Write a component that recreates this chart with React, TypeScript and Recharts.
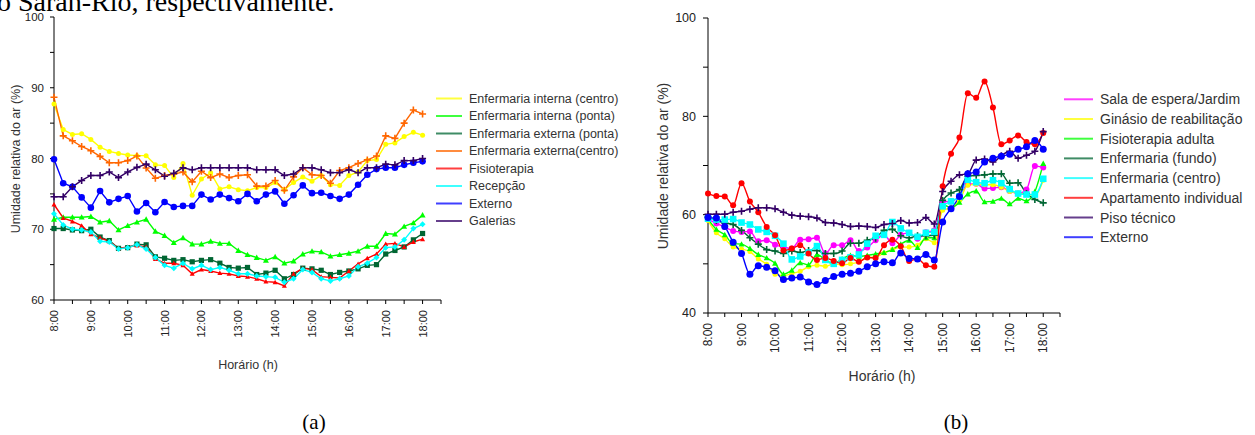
import React from 'react';
import { CartesianGrid, Line, LineChart, XAxis, YAxis } from 'recharts';

// leituras a cada 15 min, 8:00 -> 18:00
const times = [
  '8:00', '8:15', '8:30', '8:45', '9:00', '9:15', '9:30', '9:45', '10:00', '10:15', '10:30',
  '10:45', '11:00', '11:15', '11:30', '11:45', '12:00', '12:15', '12:30', '12:45', '13:00',
  '13:15', '13:30', '13:45', '14:00', '14:15', '14:30', '14:45', '15:00', '15:15', '15:30',
  '15:45', '16:00', '16:15', '16:30', '16:45', '17:00', '17:15', '17:30', '17:45', '18:00'
];
const hourLabels = ['8:00', '9:00', '10:00', '11:00', '12:00', '13:00', '14:00', '15:00', '16:00', '17:00', '18:00'];

// (a)
const intCentro = [87.7, 84.1, 83.4, 83.5, 82.7, 81.6, 81.0, 80.7, 80.5, 80.4, 80.4, 79.1, 79.0, 77.3, 79.3, 74.8, 77.1, 78.0, 75.7, 76.0, 75.6, 75.45, 75.9, 75.9, 76.6, 75.6, 76.6, 77.4, 76.8, 77.6, 76.3, 76.2, 77.6, 78.1, 79.7, 79.85, 82.0, 82.2, 83.1, 83.7, 83.3];
const intPonta = [71.4, 71.7, 71.7, 71.7, 71.8, 71.0, 71.2, 69.9, 70.5, 71.0, 71.4, 69.7, 69.1, 68.1, 68.8, 67.9, 67.9, 68.3, 68.0, 68.0, 67.0, 66.4, 66.0, 65.6, 66.1, 65.2, 65.5, 66.5, 66.9, 66.8, 66.2, 66.4, 66.6, 66.9, 67.6, 67.6, 69.4, 69.3, 70.4, 70.9, 72.0];
const extPonta = [70.1, 70.1, 69.9, 69.8, 70.0, 68.9, 68.4, 67.3, 67.4, 67.9, 67.8, 66.1, 65.9, 65.6, 65.7, 65.4, 65.6, 65.7, 65.2, 64.6, 64.5, 64.6, 63.6, 63.8, 64.2, 63.0, 63.6, 64.5, 64.4, 64.2, 63.6, 63.9, 64.1, 64.4, 64.9, 65.0, 66.5, 67.0, 67.5, 68.5, 69.4];
const extCentro = [88.65, 83.2, 82.5, 81.7, 81.1, 80.3, 79.4, 79.4, 79.7, 80.35, 78.65, 77.2, 77.6, 77.8, 78.1, 76.7, 78.2, 77.3, 77.8, 77.3, 77.6, 77.7, 76.1, 76.1, 76.9, 75.5, 77.4, 78.7, 77.7, 77.6, 76.5, 78.3, 78.7, 79.3, 79.8, 80.35, 83.2, 82.85, 85.0, 86.85, 86.3];
const fisioterapia = [73.5, 71.6, 71.1, 70.5, 69.3, 68.8, 68.3, 67.3, 67.5, 67.7, 67.5, 65.8, 65.2, 65.2, 64.9, 63.7, 64.3, 64.1, 63.8, 63.7, 63.4, 63.3, 63.0, 62.6, 62.5, 62.0, 63.7, 64.5, 64.3, 63.3, 63.2, 63.1, 64.1, 65.1, 65.9, 66.5, 67.9, 68.0, 67.5, 68.2, 68.6];
const recepcao = [72.2, 70.6, 70.0, 69.9, 69.6, 68.3, 68.2, 67.2, 67.4, 67.8, 67.2, 66.0, 64.9, 64.5, 65.2, 64.4, 64.9, 64.3, 64.6, 64.2, 63.7, 63.7, 63.4, 63.3, 63.2, 62.5, 63.0, 64.3, 63.9, 63.0, 62.7, 63.0, 63.4, 64.7, 65.2, 66.0, 67.4, 67.5, 68.5, 70.1, 70.7];
const externoA = [79.9, 76.5, 76.0, 74.5, 73.05, 75.4, 73.8, 74.3, 74.7, 72.5, 73.7, 72.4, 73.85, 73.15, 73.3, 73.3, 74.9, 74.2, 74.9, 74.4, 73.95, 75.0, 73.95, 74.9, 75.35, 73.6, 74.8, 76.2, 75.1, 75.15, 74.7, 74.3, 74.9, 76.3, 77.7, 78.5, 78.7, 78.7, 79.1, 79.4, 79.6];
const galerias = [74.6, 74.6, 76.0, 76.9, 77.6, 77.6, 78.1, 77.3, 78.1, 78.75, 79.2, 78.4, 77.5, 77.9, 78.7, 78.4, 78.7, 78.7, 78.7, 78.7, 78.7, 78.7, 78.4, 78.4, 78.4, 77.6, 77.8, 78.7, 78.7, 78.4, 78.0, 78.0, 78.4, 78.0, 78.7, 78.7, 79.2, 79.1, 79.7, 79.7, 80.0];

// (b)
const salaEspera = [59.1, 58.2, 57.5, 56.7, 56.5, 56.6, 54.6, 54.8, 53.9, 53.4, 53.1, 54.9, 55.0, 55.3, 52.1, 53.8, 53.8, 54.8, 52.6, 53.3, 54.8, 55.9, 54.2, 55.9, 56.3, 55.1, 56.4, 56.8, 62.6, 62.7, 63.8, 66.2, 66.3, 65.3, 65.4, 65.6, 64.8, 64.3, 65.1, 69.9, 69.6];
const ginasio = [58.8, 56.3, 55.1, 53.4, 53.0, 52.5, 51.0, 49.9, 47.9, 47.6, 48.0, 48.5, 49.4, 49.7, 49.5, 50.0, 49.8, 50.0, 50.4, 51.3, 51.4, 52.2, 52.9, 53.4, 53.4, 53.8, 55.1, 54.3, 60.9, 61.4, 62.9, 66.0, 66.2, 66.1, 66.1, 65.6, 64.7, 64.4, 64.1, 64.0, 67.0];
const fisioAdulta = [59.1, 57.0, 55.9, 54.1, 54.0, 53.1, 51.9, 51.2, 50.1, 47.9, 48.7, 50.2, 49.8, 51.9, 50.8, 50.0, 51.0, 51.7, 51.5, 51.7, 52.0, 52.3, 52.9, 54.0, 54.8, 53.3, 55.3, 55.3, 62.1, 61.4, 62.5, 64.2, 64.8, 62.6, 62.7, 63.3, 62.2, 63.3, 62.8, 64.7, 70.4];
const enfFundo = [59.5, 58.8, 58.3, 58.0, 56.8, 55.3, 54.0, 52.9, 52.6, 52.1, 52.6, 52.3, 52.7, 52.7, 52.1, 52.1, 52.6, 54.2, 54.2, 54.8, 55.2, 56.8, 57.0, 55.7, 55.3, 55.7, 55.7, 55.8, 62.9, 64.4, 65.1, 67.8, 68.0, 68.1, 68.3, 68.3, 66.4, 66.5, 64.3, 63.1, 62.4];
const enfCentro = [59.2, 59.0, 59.0, 59.1, 58.4, 58.0, 57.0, 56.5, 55.7, 54.1, 50.9, 51.5, 52.3, 53.6, 50.8, 50.0, 50.8, 51.3, 51.9, 54.1, 55.7, 55.9, 58.5, 57.2, 56.3, 55.5, 56.3, 56.5, 61.7, 62.7, 63.7, 67.1, 66.6, 66.4, 67.0, 66.4, 65.2, 64.3, 64.1, 64.1, 67.3];
const apartamento = [64.3, 63.8, 63.7, 61.9, 66.4, 62.7, 60.5, 57.5, 55.8, 52.7, 53.1, 53.8, 52.1, 50.8, 51.2, 50.6, 50.1, 51.2, 50.4, 51.3, 51.2, 53.8, 54.9, 53.6, 50.6, 51.0, 49.7, 49.4, 65.8, 72.4, 75.7, 84.7, 83.8, 87.1, 81.8, 74.3, 75.1, 76.1, 74.8, 74.3, 76.6];
const pisoTecnico = [60.1, 60.1, 60.1, 60.5, 60.7, 61.1, 61.4, 61.4, 61.2, 60.5, 59.9, 59.7, 59.6, 59.3, 58.4, 58.3, 58.0, 57.6, 57.7, 57.6, 57.4, 58.0, 58.2, 58.8, 58.3, 58.4, 59.4, 58.1, 64.7, 66.8, 68.1, 68.3, 71.1, 71.3, 70.7, 72.0, 72.9, 71.5, 72.1, 72.9, 76.9];
const externoB = [59.4, 59.3, 57.6, 54.4, 52.1, 47.9, 49.6, 49.3, 48.6, 46.8, 47.1, 47.3, 46.3, 45.8, 46.6, 47.4, 47.9, 48.1, 48.5, 49.4, 50.0, 50.4, 50.2, 52.2, 51.1, 51.0, 51.9, 50.8, 58.5, 61.2, 63.7, 68.3, 68.7, 70.7, 71.5, 71.9, 72.3, 73.3, 73.8, 75.1, 73.3];

type Shape = 'circle' | 'plus' | 'triangle' | 'square' | 'diamond';
interface SeriesDef {
  key: string;
  name: string;
  values: number[];
  color: string;
  shape: Shape;
  size: number;
}

const seriesA: SeriesDef[] = [
  { key: 'intCentro', name: 'Enfermaria interna (centro)', values: intCentro, color: '#ffff00', shape: 'circle', size: 2.5 },
  { key: 'intPonta', name: 'Enfermaria interna (ponta)', values: intPonta, color: '#00ff00', shape: 'triangle', size: 3 },
  { key: 'extPonta', name: 'Enfermaria externa (ponta)', values: extPonta, color: '#006633', shape: 'square', size: 2.6 },
  { key: 'extCentro', name: 'Enfermaria externa(centro)', values: extCentro, color: '#ff6600', shape: 'plus', size: 3.5 },
  { key: 'fisio', name: 'Fisioterapia', values: fisioterapia, color: '#ff0000', shape: 'triangle', size: 2.5 },
  { key: 'recepcao', name: 'Recepção', values: recepcao, color: '#00ffff', shape: 'diamond', size: 3 },
  { key: 'externo', name: 'Externo', values: externoA, color: '#0000ff', shape: 'circle', size: 3.3 },
  { key: 'galerias', name: 'Galerias', values: galerias, color: '#330066', shape: 'plus', size: 3.5 }
];

const seriesB: SeriesDef[] = [
  { key: 'sala', name: 'Sala de espera/Jardim', values: salaEspera, color: '#ff00ff', shape: 'circle', size: 3 },
  { key: 'ginasio', name: 'Ginásio de reabilitação', values: ginasio, color: '#ffff00', shape: 'circle', size: 2.5 },
  { key: 'fisioAd', name: 'Fisioterapia adulta', values: fisioAdulta, color: '#00ff00', shape: 'triangle', size: 3 },
  { key: 'fundo', name: 'Enfermaria (fundo)', values: enfFundo, color: '#006633', shape: 'plus', size: 3.5 },
  { key: 'centro', name: 'Enfermaria (centro)', values: enfCentro, color: '#00ffff', shape: 'square', size: 3.3 },
  { key: 'apto', name: 'Apartamento individual', values: apartamento, color: '#ff0000', shape: 'circle', size: 3 },
  { key: 'piso', name: 'Piso técnico', values: pisoTecnico, color: '#330066', shape: 'plus', size: 3.5 },
  { key: 'externo', name: 'Externo', values: externoB, color: '#0000ff', shape: 'circle', size: 3.5 }
];

const buildRows = (defs: SeriesDef[]) =>
  times.map((t, i) => {
    const row: Record<string, number | string> = { i, t };
    defs.forEach((s) => {
      row[s.key] = s.values[i];
    });
    return row;
  });

const rowsA = buildRows(seriesA);
const rowsB = buildRows(seriesB);

const FONT = '"Liberation Sans", Arial, sans-serif';
const SERIF = '"Liberation Serif", "Times New Roman", serif';

function Marker({ cx, cy, shape, size, color }: { cx: number; cy: number; shape: Shape; size: number; color: string }) {
  const s = size;
  if (shape === 'circle') return <circle cx={cx} cy={cy} r={s} fill={color} stroke="none" />;
  if (shape === 'square') return <rect x={cx - s} y={cy - s} width={s * 2} height={s * 2} fill={color} />;
  if (shape === 'diamond')
    return <path d={`M${cx},${cy - s}L${cx + s},${cy}L${cx},${cy + s}L${cx - s},${cy}Z`} fill={color} />;
  if (shape === 'triangle')
    return <path d={`M${cx},${cy - s}L${cx + s},${cy + s * 0.8}L${cx - s},${cy + s * 0.8}Z`} fill={color} />;
  return (
    <path d={`M${cx - s},${cy}H${cx + s}M${cx},${cy - s}V${cy + s}`} stroke={color} strokeWidth={1.6} fill="none" />
  );
}

const makeDot = (s: SeriesDef) => (p: any) => {
  if (p.cx == null || p.cy == null) return <g key={`${s.key}-${p.index}`} />;
  return (
    <g key={`${s.key}-${p.index}`}>
      <Marker cx={p.cx} cy={p.cy} shape={s.shape} size={s.size} color={s.color} />
    </g>
  );
};

const quarterTicks = [0, 2, 4, 6, 8, 10, 12, 14, 16, 18, 20, 22, 24, 26, 28, 30, 32, 34, 36, 38, 40, 42];

const TimeTick = (fontSize: number) => (props: any) => {
  const { x, y, payload } = props;
  const v = payload.value as number;
  if (v % 4 !== 0 || v > 40) return <g />;
  return (
    <text
      x={x}
      y={y}
      transform={`rotate(-90, ${x}, ${y})`}
      textAnchor="end"
      dominantBaseline="central"
      fontSize={fontSize}
      fill="#222"
      fontFamily={FONT}
    >
      {hourLabels[v / 4]}
    </text>
  );
};

function Legend({ defs, x, y, step, fontSize, lineLen }: { defs: SeriesDef[]; x: number; y: number; step: number; fontSize: number; lineLen: number }) {
  return (
    <g>
      {defs.map((s, k) => (
        <g key={s.key + k}>
          <line x1={x} x2={x + lineLen} y1={y + k * step} y2={y + k * step} stroke={s.color} strokeWidth={2} opacity={0.75} />
          <text x={x + lineLen + 7} y={y + k * step} dominantBaseline="central" fontSize={fontSize} fill="#333" fontFamily={FONT}>
            {s.name}
          </text>
        </g>
      ))}
    </g>
  );
}

export default function App() {
  return (
    <div style={{ position: 'absolute', left: 0, top: 0, width: 1255, height: 435, background: '#fff', overflow: 'hidden', fontFamily: FONT }}>
      <div style={{ position: 'absolute', left: 0, top: 0 }}>
        <LineChart width={450} height={345} data={rowsA} margin={{ top: 17, right: 9, bottom: 0, left: 14 }}>
          <CartesianGrid stroke="none" />
          <XAxis
            dataKey="i"
            type="number"
            domain={[0, 42]}
            ticks={quarterTicks}
            interval={0}
            height={45}
            tickSize={4}
            tickMargin={6}
            stroke="#000"
            tick={TimeTick(11)}
          />
          <YAxis
            type="number"
            domain={[60, 100]}
            ticks={[60, 65, 70, 75, 80, 85, 90, 95, 100]}
            interval={0}
            width={40}
            tickSize={4}
            tickMargin={6}
            stroke="#000"
            tick={{ fill: '#222', fontSize: 11.5, fontFamily: FONT }}
            tickFormatter={(v: number) => (v % 10 === 0 ? String(v) : '')}
          />
          {seriesA.map((s) => (
            <Line
              key={s.key}
              type="linear"
              dataKey={s.key}
              name={s.name}
              stroke={s.color}
              strokeWidth={1.4}
              dot={makeDot(s)}
              activeDot={false}
              isAnimationActive={false}
            />
          ))}
        </LineChart>
      </div>

      <div style={{ position: 'absolute', left: 640, top: 0 }}>
        <LineChart width={430} height={360} data={rowsB} margin={{ top: 18, right: 10, bottom: 0, left: 23 }}>
          <CartesianGrid stroke="none" />
          <XAxis
            dataKey="i"
            type="number"
            domain={[0, 42]}
            ticks={quarterTicks}
            interval={0}
            height={47}
            tickSize={4}
            tickMargin={6}
            stroke="#000"
            tick={TimeTick(12)}
          />
          <YAxis
            type="number"
            domain={[40, 100]}
            ticks={[40, 50, 60, 70, 80, 90, 100]}
            interval={0}
            width={45}
            tickSize={5}
            tickMargin={7}
            stroke="#000"
            tick={{ fill: '#222', fontSize: 12.5, fontFamily: FONT }}
            tickFormatter={(v: number) => (v % 20 === 0 ? String(v) : '')}
          />
          {seriesB.map((s) => (
            <Line
              key={s.key}
              type="monotone"
              dataKey={s.key}
              name={s.name}
              stroke={s.color}
              strokeWidth={1.4}
              dot={makeDot(s)}
              activeDot={false}
              isAnimationActive={false}
            />
          ))}
        </LineChart>
      </div>

      <svg width={1255} height={435} style={{ position: 'absolute', left: 0, top: 0, pointerEvents: 'none' }}>
        <text x={-3} y={11} fontFamily={SERIF} fontSize={28} fill="#000">
          o Sarah-Rio, respectivamente.
        </text>
        <text x={15.5} y={159} transform="rotate(-90, 15.5, 159)" textAnchor="middle" dominantBaseline="central" fontSize={12.5} fill="#333" fontFamily={FONT}>
          Umidade relativa do ar (%)
        </text>
        <text x={663} y={166} transform="rotate(-90, 663, 166)" textAnchor="middle" dominantBaseline="central" fontSize={14} fill="#333" fontFamily={FONT}>
          Umidade relativa do ar (%)
        </text>
        <text x={248} y={365} textAnchor="middle" dominantBaseline="central" fontSize={12.5} fill="#333" fontFamily={FONT}>
          Horário (h)
        </text>
        <text x={882} y={376} textAnchor="middle" dominantBaseline="central" fontSize={14} fill="#333" fontFamily={FONT}>
          Horário (h)
        </text>
        <text x={314} y={429} textAnchor="middle" fontSize={21} fill="#000" fontFamily={SERIF}>
          (a)
        </text>
        <text x={956} y={429} textAnchor="middle" fontSize={21} fill="#000" fontFamily={SERIF}>
          (b)
        </text>
        <Legend defs={seriesA} x={436} y={98.5} step={17.5} fontSize={12.5} lineLen={26} />
        <Legend defs={seriesB} x={1064} y={99.3} step={19.7} fontSize={14} lineLen={29} />
      </svg>
    </div>
  );
}
